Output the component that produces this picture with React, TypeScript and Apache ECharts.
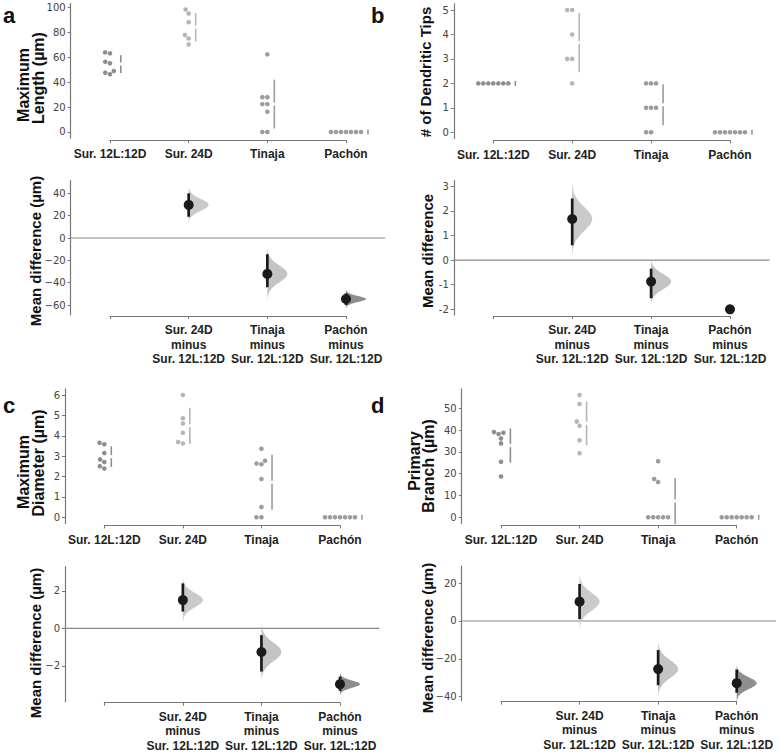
import React, { useEffect, useRef } from "react";
import * as echarts from "echarts";

// ---------- categories ----------
const GROUPS = ["Sur. 12L:12D", "Sur. 24D", "Tinaja", "Pachón"];
const DIFF_LABELS = [
  "Sur. 24D\nminus\nSur. 12L:12D",
  "Tinaja\nminus\nSur. 12L:12D",
  "Pachón\nminus\nSur. 12L:12D",
];

// ---------- panel a: maximum length (µm) ----------
const lengthSur12 = [64, 63.2, 56.5, 55.2, 47.7, 46.4, 49];
const lengthSur24 = [98.4, 95.2, 88.3, 77.9, 75.2, 70.4];
const lengthTinaja = [62.4, 28, 28, 22.4, 22.4, 16.3, 0, 0];
const lengthPachon = [0, 0, 0, 0, 0, 0, 0];
const lengthCI = [[19, 40], [-44, -14.5], [-60, -49.5]];
const lengthTicks = [0, 20, 40, 60, 80, 100];
const lengthDiffTicks = [-60, -40, -20, 0, 20, 40];

// ---------- panel b: # of dendritic tips ----------
const tipsSur12 = [2, 2, 2, 2, 2, 2, 2];
const tipsSur24 = [5, 5, 4, 3, 3, 2];
const tipsTinaja = [2, 2, 2, 1, 1, 1, 0, 0];
const tipsPachon = [0, 0, 0, 0, 0, 0, 0];
const tipsCI = [[0.6, 2.5], [-1.55, -0.35], [-2, -2]];
const tipsTicks = [0, 1, 2, 3, 4, 5];
const tipsDiffTicks = [-2, -1, 0, 1, 2, 3];

// ---------- panel c: maximum diameter (µm) ----------
const diamSur12 = [3.66, 3.58, 3.15, 2.84, 2.71, 2.5, 2.39];
const diamSur24 = [6.0, 4.86, 4.6, 4.15, 3.62, 3.69];
const diamTinaja = [3.36, 2.77, 2.64, 2.6, 1.88, 0.5, 0, 0];
const diamPachon = [0, 0, 0, 0, 0, 0, 0];
const diamCI = [[0.9, 2.4], [-2.3, -0.36], [-3.33, -2.57]];
const diamTicks = [0, 1, 2, 3, 4, 5, 6];
const diamDiffTicks = [-2, 0, 2];

// ---------- panel d: primary branch (µm) ----------
const branchSur12 = [39.1, 38.8, 38.2, 36.2, 33.9, 25.5, 18.7];
const branchSur24 = [56.1, 52, 43.9, 42, 35.3, 29.4];
const branchTinaja = [25.7, 17.6, 16.2, 0, 0, 0, 0, 0];
const branchPachon = [0, 0, 0, 0, 0, 0, 0];
const branchCI = [[1.0, 19.6], [-34, -15.4], [-38, -25.7]];
const branchTicks = [0, 10, 20, 30, 40, 50];
const branchDiffTicks = [-40, -20, 0, 20];

// ---------- styling ----------
const DOT_COLORS = ["#8e8e8e", "#b6b6b6", "#9c9c9c", "#9c9c9c"];
const VIOLIN_COLORS = ["#cacaca", "#c4c4c4", "#8e8e8e"];
const AXIS_COLOR = "#777";
const TICK_FONT = "'DejaVu Sans', sans-serif";
const LABEL_FONT = "'Liberation Sans', Arial, sans-serif";

const mean = (a: number[]) => a.reduce((s, v) => s + v, 0) / a.length;
const sd = (a: number[]) => {
  const m = mean(a);
  return Math.sqrt(a.reduce((s, v) => s + (v - m) * (v - m), 0) / (a.length - 1));
};

function beeswarm(ys: number[], d: number): number[] {
  const order = ys.map((_, i) => i).sort((a, b) => ys[b] - ys[a]);
  const placed: { x: number; y: number }[] = [];
  const xs = new Array(ys.length).fill(0);
  for (const i of order) {
    const y = ys[i];
    const cands = [0];
    for (const p of placed) {
      const dy = Math.abs(p.y - y);
      if (dy < d) {
        const dx = Math.sqrt(d * d - dy * dy);
        cands.push(p.x - dx, p.x + dx);
      }
    }
    cands.sort((a, b) => Math.abs(a) - Math.abs(b) || a - b);
    for (const c of cands) {
      if (placed.every((p) => (p.x - c) ** 2 + (p.y - y) ** 2 >= d * d - 0.05)) {
        xs[i] = c;
        placed.push({ x: c, y });
        break;
      }
    }
  }
  return xs;
}

interface PanelCfg {
  letter: string;
  letterPos: [number, number];
  data: number[][];
  ci: number[][];
  ticks: number[];
  diffTicks: number[];
  minus: string;
  x0: number;
  w: number;
  top: [number, number, number, number]; // top, height, min, max
  bottom: [number, number, number, number];
  titles: { text: string; x: number; y: number; size: number }[];
  noViolinLast?: boolean;
}

const PANELS: PanelCfg[] = [
  {
    letter: "a",
    letterPos: [3, 21],
    data: [lengthSur12, lengthSur24, lengthTinaja, lengthPachon],
    ci: lengthCI,
    ticks: lengthTicks,
    diffTicks: lengthDiffTicks,
    minus: "\u2212",
    x0: 110,
    w: 236,
    top: [3.5, 134.6, -4.92, 103.3],
    bottom: [180.7, 134.3, -68.9, 51.3],
    titles: [
      { text: "Maximum", x: 23, y: 85, size: 16 },
      { text: "Length (µm)", x: 38, y: 78, size: 16 },
      { text: "Mean difference (µm)", x: 35, y: 251, size: 15 },
    ],
  },
  {
    letter: "b",
    letterPos: [371, 21],
    data: [tipsSur12, tipsSur24, tipsTinaja, tipsPachon],
    ci: tipsCI,
    ticks: tipsTicks,
    diffTicks: tipsDiffTicks,
    minus: "-",
    x0: 493.3,
    w: 236.7,
    top: [3.9, 134.5, -0.25, 5.25],
    bottom: [180.7, 134.3, -2.23, 3.22],
    titles: [
      { text: "# of Dendritic Tips", x: 425, y: 72, size: 15 },
      { text: "Mean difference", x: 427.5, y: 251, size: 15 },
    ],
    noViolinLast: true,
  },
  {
    letter: "c",
    letterPos: [3, 411],
    data: [diamSur12, diamSur24, diamTinaja, diamPachon],
    ci: diamCI,
    ticks: diamTicks,
    diffTicks: diamDiffTicks,
    minus: "\u2212",
    x0: 104.3,
    w: 235.7,
    top: [388.9, 134.5, -0.3, 6.3],
    bottom: [566.7, 135, -3.91, 3.29],
    titles: [
      { text: "Maximum", x: 23, y: 472, size: 16 },
      { text: "Diameter (µm)", x: 38, y: 463, size: 16 },
      { text: "Mean difference (µm)", x: 35, y: 643, size: 15 },
    ],
  },
  {
    letter: "d",
    letterPos: [371, 411],
    data: [branchSur12, branchSur24, branchTinaja, branchPachon],
    ci: branchCI,
    ticks: branchTicks,
    diffTicks: branchDiffTicks,
    minus: "\u2212",
    x0: 501,
    w: 235.7,
    top: [388.9, 134.5, -2.8, 58.9],
    bottom: [566, 134.7, -42.2, 29.1],
    titles: [
      { text: "Primary", x: 414, y: 461, size: 16 },
      { text: "Branch (µm)", x: 428, y: 466, size: 16 },
      { text: "Mean difference (µm)", x: 427.5, y: 638, size: 15 },
    ],
  },
];

function buildOption() {
  const grid: any[] = [];
  const xAxis: any[] = [];
  const yAxis: any[] = [];
  const series: any[] = [];
  const graphic: any[] = [];

  PANELS.forEach((p) => {
    const fmt = (v: number) => (v < 0 ? p.minus + Math.abs(v) : String(v));
    const addAxes = (box: [number, number, number, number], ticks: number[], isDiff: boolean) => {
      const idx = grid.length;
      grid.push({
        left: p.x0,
        top: box[0],
        width: p.w,
        height: box[1],
        outerBoundsMode: "none",
        containLabel: false,
      });
      xAxis.push({
        type: "value",
        gridIndex: idx,
        min: 0,
        max: 3,
        interval: 1,
        offset: isDiff ? 1 : 2,
        axisLine: { show: true, onZero: false, lineStyle: { color: AXIS_COLOR, width: 1.2 } },
        axisTick: { show: true, length: 3, lineStyle: { color: AXIS_COLOR } },
        splitLine: { show: false },
        axisLabel: {
          formatter: (v: number) => {
            const i = Math.round(v);
            return isDiff ? (i === 0 ? "" : DIFF_LABELS[i - 1]) : GROUPS[i];
          },
          fontFamily: LABEL_FONT,
          fontWeight: "bold",
          fontSize: 12,
          lineHeight: 14.5,
          color: "#222",
          margin: 7,
          showMinLabel: true,
          showMaxLabel: true,
        },
      });
      yAxis.push({
        type: "value",
        gridIndex: idx,
        min: box[2],
        max: box[3],
        offset: p.w / 6,
        axisLine: { show: true, onZero: false, lineStyle: { color: AXIS_COLOR, width: 1.2 } },
        axisTick: { show: true, length: 3, customValues: ticks, lineStyle: { color: AXIS_COLOR } },
        splitLine: { show: false },
        axisLabel: {
          customValues: ticks,
          formatter: fmt,
          fontFamily: TICK_FONT,
          fontSize: 10,
          color: "#444",
          margin: 5,
        },
      });
      return idx;
    };

    // ----- top swarm -----
    const ti = addAxes(p.top, p.ticks, false);
    series.push({
      type: "custom",
      xAxisIndex: ti,
      yAxisIndex: ti,
      clip: false,
      silent: true,
      data: p.data.map((vals, i) => [i, mean(vals)]),
      renderItem: (_params: any, api: any) => {
        const g = api.value(0);
        const vals = p.data[g];
        const base = api.coord([g, 0]);
        const ys = vals.map((v) => api.coord([g, v])[1]);
        const xs = beeswarm(ys, 5);
        const children: any[] = vals.map((_v, k) => ({
          type: "circle",
          shape: { cx: base[0] + xs[k], cy: ys[k], r: 2.3 },
          style: { fill: DOT_COLORS[g] },
        }));
        const m = mean(vals);
        const s = sd(vals);
        const lx = base[0] + Math.max(...xs) + 7;
        const yT = api.coord([g, m + s])[1];
        const yM = api.coord([g, m])[1];
        const yB = api.coord([g, m - s])[1];
        const ls = { stroke: DOT_COLORS[g], lineWidth: 1.6 };
        if (yB - yT > 6) {
          children.push({ type: "line", shape: { x1: lx, y1: yT, x2: lx, y2: yM - 1.5 }, style: ls });
          children.push({ type: "line", shape: { x1: lx, y1: yM + 1.5, x2: lx, y2: yB }, style: ls });
        } else {
          children.push({ type: "line", shape: { x1: lx, y1: yM - 2.5, x2: lx, y2: yM + 2.5 }, style: ls });
        }
        return { type: "group", children };
      },
    });

    // ----- bottom estimation -----
    const bi = addAxes(p.bottom, p.diffTicks, true);
    series.push({
      type: "custom",
      xAxisIndex: bi,
      yAxisIndex: bi,
      clip: false,
      silent: true,
      data: [[0, 0]],
      renderItem: (_params: any, api: any) => {
        const a = api.coord([-0.5, 0]);
        const b = api.coord([3.5, 0]);
        return {
          type: "line",
          shape: { x1: a[0], y1: a[1], x2: b[0], y2: b[1] },
          style: { stroke: "#888", lineWidth: 1.2 },
        };
      },
    });
    const ctrlMean = mean(p.data[0]);
    series.push({
      type: "custom",
      xAxisIndex: bi,
      yAxisIndex: bi,
      clip: false,
      silent: true,
      data: p.ci.map((c, i) => [i + 1, mean(p.data[i + 1]) - ctrlMean, c[0], c[1]]),
      renderItem: (params: any, api: any) => {
        const x = api.value(0);
        const d = api.value(1);
        const lo = api.value(2);
        const hi = api.value(3);
        const c = api.coord([x, d]);
        const sdv = (hi - lo) / 3.92;
        const children: any[] = [];
        const idx = params.dataIndex;
        if (sdv > 0 && !(p.noViolinLast && idx === 2)) {
          const pts: number[][] = [];
          pts.push([c[0], api.coord([x, d - 3 * sdv])[1]]);
          const N = 60;
          for (let k = 0; k <= N; k++) {
            const z = -3 + (6 * k) / N;
            const py = api.coord([x, d + z * sdv])[1];
            pts.push([c[0] + 20 * Math.exp(-0.5 * z * z), py]);
          }
          pts.push([c[0], api.coord([x, d + 3 * sdv])[1]]);
          children.push({ type: "polygon", shape: { points: pts }, style: { fill: VIOLIN_COLORS[idx] } });
          const yl = api.coord([x, lo])[1];
          const yh = api.coord([x, hi])[1];
          children.push({
            type: "line",
            shape: { x1: c[0], y1: yl, x2: c[0], y2: yh },
            style: { stroke: "#1a1a1a", lineWidth: 2.7 },
          });
        }
        children.push({ type: "circle", shape: { cx: c[0], cy: c[1], r: 5 }, style: { fill: "#1a1a1a" } });
        return { type: "group", children };
      },
    });

    // ----- texts -----
    graphic.push({
      type: "text",
      left: p.letterPos[0],
      top: p.letterPos[1] - 17,
      style: { text: p.letter, font: `bold 22px ${LABEL_FONT}`, fill: "#111" },
    });
    p.titles.forEach((t) => {
      graphic.push({
        type: "text",
        x: t.x,
        y: t.y,
        rotation: Math.PI / 2,
        style: {
          text: t.text,
          font: `bold ${t.size}px ${LABEL_FONT}`,
          fill: "#111",
          textAlign: "center",
          align: "center",
          textVerticalAlign: "middle",
          verticalAlign: "middle",
        },
      });
    });
  });

  return { animation: false, backgroundColor: "#fff", grid, xAxis, yAxis, series, graphic };
}

export default function App() {
  const ref = useRef<HTMLDivElement>(null);
  useEffect(() => {
    if (!ref.current) return;
    const chart = echarts.init(ref.current, undefined, { renderer: "svg" });
    chart.setOption(buildOption() as any);
    return () => chart.dispose();
  }, []);
  return (
    <div
      ref={ref}
      style={{ position: "absolute", left: 0, top: 0, width: 780, height: 754, background: "#fff" }}
    />
  );
}
